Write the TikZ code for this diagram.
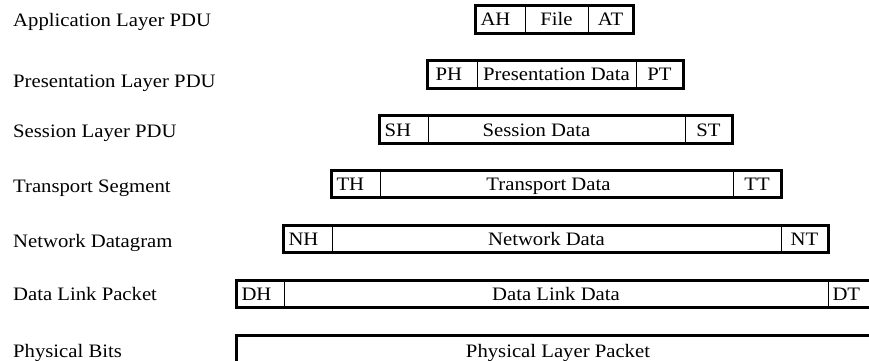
\documentclass[tikz,border=0pt]{standalone}
\usepackage{fontspec}
\setmainfont{Liberation Serif}[FakeStretch=1.09]
\begin{document}
\begin{tikzpicture}[x=1pt,y=-1pt,
  cell/.style={draw,line width=0.8pt,minimum height=27pt,inner sep=0pt,text height=12.5pt,text depth=0pt,font=\fontsize{19}{21}\selectfont},
  hdr/.style={cell,inner xsep=4.5pt,text width=#1,align=left},
  outer/.style={draw,line width=2.6pt},
  lbl/.style={anchor=base west,inner sep=0pt,font=\fontsize{19}{21}\selectfont}]
\useasboundingbox (0,0) rectangle (869,360);
\clip (0,0) rectangle (869,360);
% labels
\node[lbl] (l1) at (13,26) {Application Layer PDU};
\node[lbl] (l2) at (13,87) {Presentation Layer PDU};
\node[lbl] (l3) at (13,137) {Session Layer PDU};
\node[lbl] (l4) at (13,192) {Transport Segment};
\node[lbl] (l5) at (13,247) {Network Datagram};
\node[lbl] (l6) at (13,300) {Data Link Packet};
\node[lbl] (l7) at (13,357) {Physical Bits};
% application
\node[hdr=40pt,minimum width=49pt] (aH) at (500.5,19.5) {AH};
\node[cell,minimum width=63pt] (aF) at (556.5,19.5) {File};
\node[cell,minimum width=45pt] (aT) at (610.5,19.5) {AT};
\draw[outer] (aH.north west) rectangle (aT.south east);
% presentation
\node[hdr=40pt,minimum width=49pt] (pH) at (452.5,74.5) {\kern3pt PH};
\node[cell,minimum width=159pt] (pD) at (556.5,74.5) {Presentation Data};
\node[cell,minimum width=47pt] (pT) at (659.5,74.5) {PT};
\draw[outer] (pH.north west) rectangle (pT.south east);
% session
\node[hdr=39pt,minimum width=48pt,text height=14pt] (sH) at (404,129.5) {SH};
\node[cell,minimum width=257pt,text height=14pt] (sD) at (556.5,129.5) {\kern-40pt Session Data};
\node[cell,minimum width=47pt,text height=14pt] (sT) at (708.5,129.5) {ST};
\draw[outer] (sH.north west) rectangle (sT.south east);
% transport
\node[hdr=39pt,minimum width=48pt,minimum height=26pt] (tH) at (356,184) {TH};
\node[cell,minimum width=353pt,minimum height=26pt] (tD) at (556.5,184) {\kern-16pt Transport Data};
\node[cell,minimum width=48pt,minimum height=26pt] (tT) at (757,184) {TT};
\draw[outer] (tH.north west) rectangle (tT.south east);
% network
\node[hdr=39pt,minimum width=48pt,minimum height=26pt] (nH) at (308,239) {NH};
\node[cell,minimum width=449pt,minimum height=26pt] (nD) at (556.5,239) {\kern-20pt Network Data};
\node[cell,minimum width=47pt,minimum height=26pt] (nT) at (804.5,239) {NT};
\draw[outer] (nH.north west) rectangle (nT.south east);
% data link
\node[hdr=38pt,minimum width=47pt,minimum height=26pt] (dH) at (260.5,294) {DH};
\node[hdr=41pt,minimum width=50pt,minimum height=26pt] (dT) at (853,294) {DT};
\node[cell,minimum width=544pt,minimum height=26pt] (dD) at (556,294) {Data Link Data};
\draw[outer] (dH.north west) rectangle (dT.south east);
% physical
\node[cell,draw=none,minimum width=643pt,minimum height=56pt] (phB) at (558.5,364) {};
\draw[outer] (phB.north west) rectangle (phB.south east);
\node[lbl,anchor=base] (phT) at (558,357) {Physical Layer Packet};
\end{tikzpicture}
\end{document}
